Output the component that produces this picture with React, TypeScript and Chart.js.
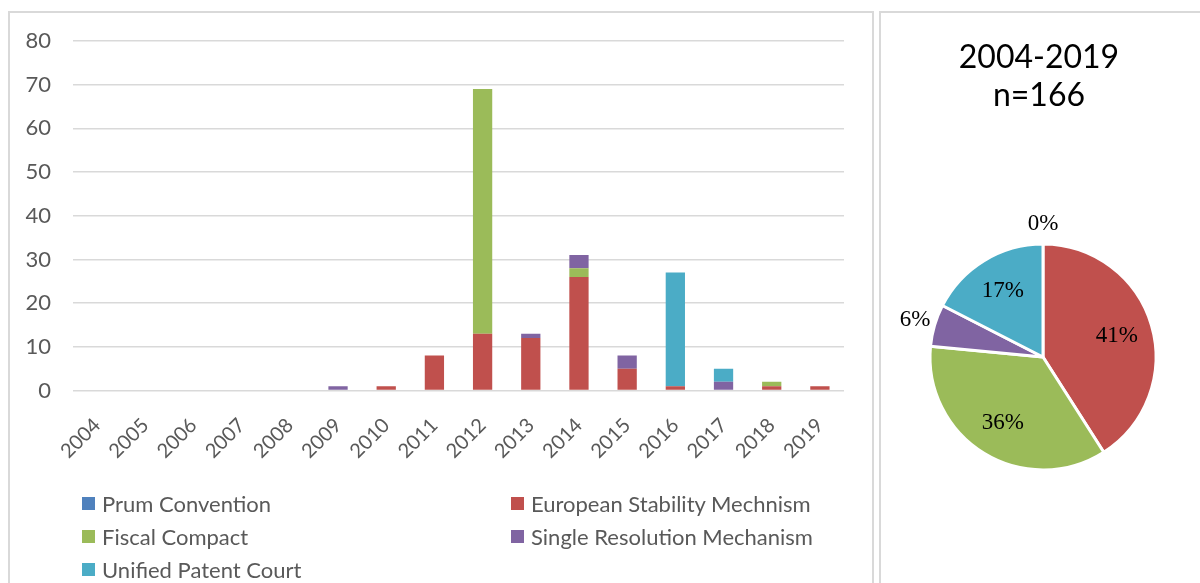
import React, { useEffect, useRef } from "react";
import { Chart, registerables } from "chart.js";

Chart.register(...registerables);

// ---------- data ----------
const years = ["2004", "2005", "2006", "2007", "2008", "2009", "2010", "2011", "2012", "2013", "2014", "2015", "2016", "2017", "2018", "2019"];
const prumConvention = [0, 0, 0, 0, 0, 0, 0, 0, 0, 0, 0, 0, 0, 0, 0, 0];
const europeanStabilityMechanism = [0, 0, 0, 0, 0, 0, 1, 8, 13, 12, 26, 5, 1, 0, 1, 1];
const fiscalCompact = [0, 0, 0, 0, 0, 0, 0, 0, 56, 0, 2, 0, 0, 0, 1, 0];
const singleResolutionMechanism = [0, 0, 0, 0, 0, 1, 0, 0, 0, 1, 3, 3, 0, 2, 0, 0];
const unifiedPatentCourt = [0, 0, 0, 0, 0, 0, 0, 0, 0, 0, 0, 0, 26, 3, 0, 0];

const seriesNames = ["Prum Convention", "European Stability Mechnism", "Fiscal Compact", "Single Resolution Mechanism", "Unified Patent Court"];
const seriesColors = ["#4F81BD", "#C0504D", "#9BBB59", "#8064A2", "#4BACC6"];
const seriesValues = [prumConvention, europeanStabilityMechanism, fiscalCompact, singleResolutionMechanism, unifiedPatentCourt];

const yMin = 0;
const yMax = 80;
const yStep = 10;

const pieTotals = [0, 68, 59, 10, 29];
const pieTitle = ["2004-2019", "n=166"];

// ---------- styles ----------
const SANS = "Lato, 'Open Sans', sans-serif";
const GREY_TEXT = "#595959";
const GRID = "#d9d9d9";

const pieLabelPlugin = {
  id: "pieLabels",
  afterDatasetsDraw(chart: any) {
    const meta = chart.getDatasetMeta(0);
    const data: number[] = chart.data.datasets[0].data;
    const total = data.reduce((a, b) => a + b, 0);
    const c = chart.ctx;
    c.save();
    c.font = "23px 'Liberation Serif', serif";
    c.fillStyle = "#000";
    c.textAlign = "center";
    c.textBaseline = "middle";
    meta.data.forEach((arc: any, i: number) => {
      const p = arc.getProps(["x", "y", "startAngle", "endAngle", "outerRadius"], true);
      const mid = (p.startAngle + p.endAngle) / 2;
      const pct = Math.round((data[i] / total) * 100);
      const r = pct < 10 ? p.outerRadius * 1.18 : p.outerRadius * 0.68;
      c.fillText(pct + "%", p.x + Math.cos(mid) * r, p.y + Math.sin(mid) * r);
    });
    c.restore();
  },
};

export default function App() {
  const barRef = useRef<HTMLCanvasElement | null>(null);
  const pieRef = useRef<HTMLCanvasElement | null>(null);

  useEffect(() => {
    const bar = new Chart(barRef.current as HTMLCanvasElement, {
      type: "bar",
      data: {
        labels: years,
        datasets: seriesValues.map((d, i) => ({
          label: seriesNames[i],
          data: d,
          backgroundColor: seriesColors[i],
          barPercentage: 0.4,
          categoryPercentage: 1,
        })),
      },
      options: {
        animation: false,
        responsive: false,
        maintainAspectRatio: false,
        layout: { padding: { left: 0, right: 29, top: 41, bottom: 0 } },
        plugins: { legend: { display: false }, tooltip: { enabled: false } },
        scales: {
          x: {
            stacked: true,
            grid: { display: false },
            border: { display: false },
            ticks: {
              autoSkip: false,
              minRotation: 45,
              maxRotation: 45,
              padding: 15,
              color: GREY_TEXT,
              font: { family: SANS, size: 20 },
            },
            afterFit: (s: any) => {
              s.height = 192.5;
            },
          },
          y: {
            stacked: true,
            min: yMin,
            max: yMax,
            grid: { color: GRID, lineWidth: 1.5, drawTicks: false },
            border: { display: false },
            ticks: { stepSize: yStep, padding: 22, color: GREY_TEXT, font: { family: SANS, size: 22 } },
            afterFit: (s: any) => {
              s.width = 73;
            },
          },
        },
      } as any,
    });

    const pie = new Chart(pieRef.current as HTMLCanvasElement, {
      type: "pie",
      data: {
        labels: seriesNames,
        datasets: [
          {
            data: pieTotals,
            backgroundColor: seriesColors,
            borderColor: "#ffffff",
            borderWidth: 3,
            radius: 113,
          } as any,
        ],
      },
      options: {
        animation: false,
        responsive: false,
        maintainAspectRatio: false,
        layout: { padding: { left: 51, right: 45, top: 245, bottom: 114 } },
        plugins: { legend: { display: false }, tooltip: { enabled: false } },
      } as any,
      plugins: [pieLabelPlugin],
    });

    return () => {
      bar.destroy();
      pie.destroy();
    };
  }, []);

  return (
    <div
      style={{
        position: "fixed",
        left: 0,
        top: 0,
        width: 1200,
        height: 583,
        overflow: "hidden",
        background: "#fff",
      }}
    >
      <div
        style={{
          position: "absolute",
          left: 8,
          top: 11,
          width: 866,
          height: 620,
          boxSizing: "border-box",
          border: `2px solid ${GRID}`,
        }}
      />
      <div
        style={{
          position: "absolute",
          left: 879,
          top: 11,
          width: 360,
          height: 620,
          boxSizing: "border-box",
          border: `2px solid ${GRID}`,
        }}
      />
      <canvas ref={barRef} width={873} height={583} style={{ position: "absolute", left: 0, top: 0, width: 873, height: 583 }} />
      <canvas ref={pieRef} width={320} height={583} style={{ position: "absolute", left: 880, top: 0, width: 320, height: 583 }} />

      <div
        style={{
          position: "absolute",
          left: 880,
          top: 37,
          width: 318,
          textAlign: "center",
          fontFamily: SANS,
          fontSize: 32,
          lineHeight: "38px",
          color: "#000",
        }}
      >
        {pieTitle.map((t) => (
          <div key={t}>{t}</div>
        ))}
      </div>

      <div
        style={{
          position: "absolute",
          left: 82,
          top: 487,
          display: "grid",
          gridTemplateColumns: "429px auto",
          gridAutoRows: "33px",
          fontFamily: SANS,
          fontSize: 22,
          color: GREY_TEXT,
        }}
      >
        {seriesNames.map((name, i) => (
          <div key={name} style={{ display: "flex", alignItems: "center", whiteSpace: "nowrap" }}>
            <span
              style={{
                display: "inline-block",
                width: 13,
                height: 13,
                background: seriesColors[i],
                marginRight: 7,
              }}
            />
            <span>{name}</span>
          </div>
        ))}
      </div>
    </div>
  );
}
